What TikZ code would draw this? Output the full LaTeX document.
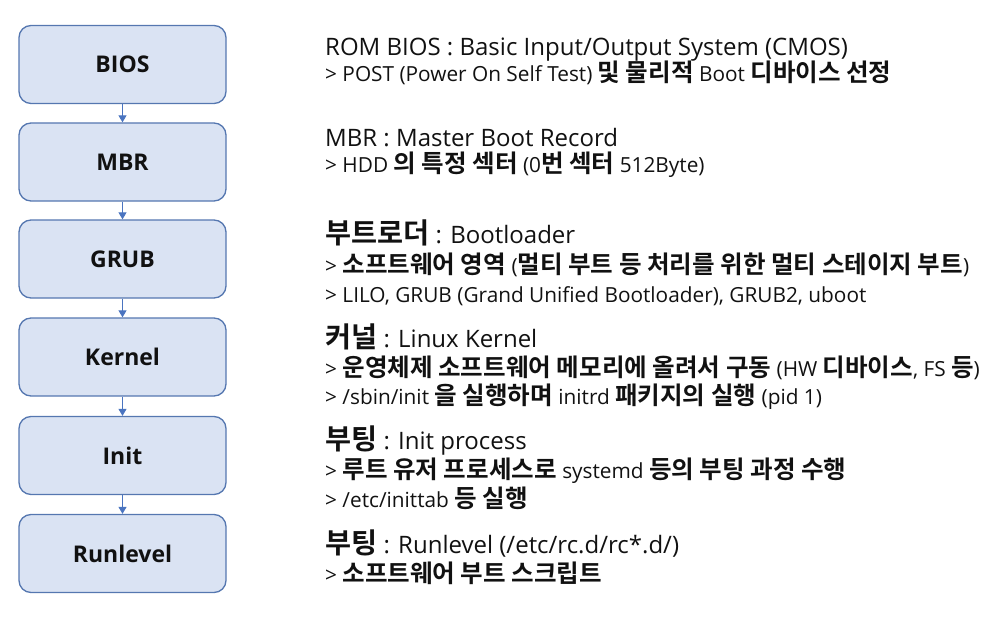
\documentclass[tikz,border=0pt]{standalone}
\usepackage{fontspec}
\setmainfont{Open Sans}
\newfontfamily\kr{Noto Sans CJK KR}[BoldFont=* Bold,Scale=1.18]
\usetikzlibrary{arrows.meta,positioning}
\definecolor{boxfill}{HTML}{DAE3F3}
\definecolor{boxline}{HTML}{5577B0}
\definecolor{flow}{HTML}{4A74C0}
\definecolor{ink}{HTML}{111111}
\newcommand{\K}[1]{{\kr\bfseries #1}}
\begin{document}
\begin{tikzpicture}[x=1pt,y=-1pt,
  stage/.style={draw=boxline,line width=1.3pt,fill=boxfill,rounded corners=12pt,
    minimum width=207pt,minimum height=78pt,text=ink,font=\fontsize{23}{27}\selectfont\bfseries},
  head/.style={anchor=base west,inner sep=0pt,text=ink,font=\fontsize{24}{28}\selectfont},
  sub/.style={anchor=base west,inner sep=0pt,text=ink,font=\fontsize{20.8}{24}\selectfont},
  flowarrow/.style={draw=flow,line width=1pt,-{Triangle[width=8pt,length=7pt]}}]
\useasboundingbox (0,0) rectangle (999,623);
% stages
\node[stage] (bios) at (122.5,64.5) {BIOS};
\node[stage] (mbr) at (122.5,162) {MBR};
\node[stage] (grub) at (122.5,259) {GRUB};
\node[stage] (kernel) at (122.5,357) {Kernel};
\node[stage] (init) at (122.5,455.5) {Init};
\node[stage] (runlevel) at (122.5,553.5) {Runlevel};
\draw[flowarrow] (bios) -- (mbr);
\draw[flowarrow] (mbr) -- (grub);
\draw[flowarrow] (grub) -- (kernel);
\draw[flowarrow] (kernel) -- (init);
\draw[flowarrow] (init) -- (runlevel);
% descriptions
\node[head] (biosa) at (325,56) {ROM BIOS : Basic Input/Output System (CMOS)};
\node[sub] (biosb) at (325,82) {> POST (Power On Self Test) \K{및 물리적} Boot \K{디바이스 선정}};
\node[head] (mbra) at (325,147) {MBR : Master Boot Record};
\node[sub] (mbrb) at (325,172) {> HDD \K{의 특정 섹터} (0\K{번 섹터} 512Byte)};
\node[head] (gruba) at (325,243) {\K{부트로더} : Bootloader};
\node[sub] (grubb) at (325,273) {> \K{소프트웨어 영역} (\K{멀티 부트 등 처리를 위한 멀티 스테이지 부트})};
\node[sub] (grubc) at (325,302) {> LILO, GRUB (Grand Unified Bootloader), GRUB2, uboot};
\node[head] (kernela) at (325,347) {\K{커널} : Linux Kernel};
\node[sub] (kernelb) at (325,376) {> \K{운영체제 소프트웨어 메모리에 올려서 구동} (HW \K{디바이스}, FS \K{등})};
\node[sub] (kernelc) at (325,404) {> /sbin/init \K{을 실행하며} initrd \K{패키지의 실행} (pid 1)};
\node[head] (inita) at (325,449) {\K{부팅} : Init process};
\node[sub] (initb) at (325,478) {> \K{루트 유저 프로세스로} systemd \K{등의 부팅 과정 수행}};
\node[sub] (initc) at (325,507) {> /etc/inittab \K{등 실행}};
\node[head] (runa) at (325,553) {\K{부팅} : Runlevel (/etc/rc.d/rc*.d/)};
\node[sub] (runb) at (325,582) {> \K{소프트웨어 부트 스크립트}};
\end{tikzpicture}
\end{document}
